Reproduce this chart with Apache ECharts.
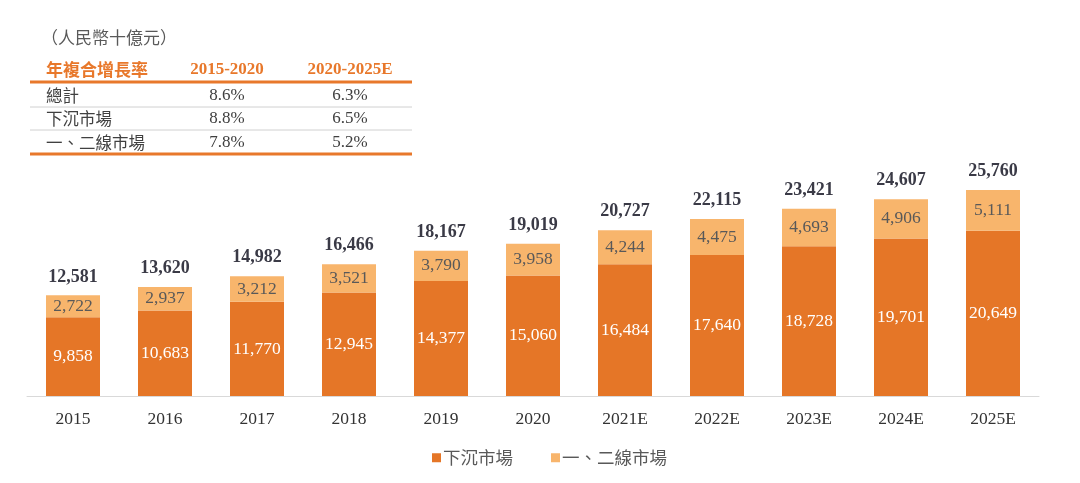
<!DOCTYPE html>
<html><head><meta charset="utf-8">
<script src="https://cdn.jsdelivr.net/npm/echarts@6/dist/echarts.min.js"></script>
<style>html,body{margin:0;padding:0;background:#fff}#c{width:1080px;height:483px}</style>
</head><body><div id="c"></div>
<script>
const categories = ['2015','2016','2017','2018','2019','2020','2021E','2022E','2023E','2024E','2025E'];
const lowerTier = [9858,10683,11770,12945,14377,15060,16484,17640,18728,19701,20649];
const upperTier = [2722,2937,3212,3521,3790,3958,4244,4475,4693,4906,5111];
const totals = [12581,13620,14982,16466,18167,19019,20727,22115,23421,24607,25760];
const seriesNames = ['下沉市場','一、二線市場'];
const unitTitle = '（人民幣十億元）';
const tableHeader = ['年複合增長率','2015-2020','2020-2025E'];
const tableRows = [
  ['總計','8.6%','6.3%'],
  ['下沉市場','8.8%','6.5%'],
  ['一、二線市場','7.8%','5.2%']
];

const DARK = '#E57627', LIGHT = '#F8B56C', TORANGE = '#E8782B';
const SERIF = '"Liberation Serif","Times New Roman",serif';
const CJK = '"Noto Sans CJK TC","Noto Sans CJK SC",sans-serif';
const fmt = v => Number(v).toLocaleString('en-US');

const chart = echarts.init(document.getElementById('c'));

const g = [];
g.push({type:'text', left:41, top:29, style:{text:unitTitle, font:'17px '+CJK, fill:'#595959'}});
const rowY = [96,119,143];
const colX = [46,227,350];
g.push({type:'text', x:colX[0], y:70, style:{text:tableHeader[0], font:'bold 17px '+CJK, fill:TORANGE, textVerticalAlign:'middle'}});
g.push({type:'text', x:colX[1], y:70, style:{text:tableHeader[1], font:'bold 17px '+SERIF, fill:TORANGE, textAlign:'center', textVerticalAlign:'middle'}});
g.push({type:'text', x:colX[2], y:70, style:{text:tableHeader[2], font:'bold 17px '+SERIF, fill:TORANGE, textAlign:'center', textVerticalAlign:'middle'}});
g.push({type:'line', shape:{x1:30,y1:82,x2:412,y2:82}, style:{stroke:TORANGE, lineWidth:3}});
g.push({type:'line', shape:{x1:30,y1:107,x2:412,y2:107}, style:{stroke:'#D0D0D0', lineWidth:1}});
g.push({type:'line', shape:{x1:30,y1:130,x2:412,y2:130}, style:{stroke:'#D0D0D0', lineWidth:1}});
g.push({type:'line', shape:{x1:30,y1:154,x2:412,y2:154}, style:{stroke:TORANGE, lineWidth:3}});
tableRows.forEach((r,i)=>{
  g.push({type:'text', x:colX[0], y:rowY[i], style:{text:r[0], font:'16.5px '+CJK, fill:'#404040', textVerticalAlign:'middle'}});
  g.push({type:'text', x:colX[1], y:rowY[i], style:{text:r[1], font:'17px '+SERIF, fill:'#404040', textAlign:'center', textVerticalAlign:'middle'}});
  g.push({type:'text', x:colX[2], y:rowY[i], style:{text:r[2], font:'17px '+SERIF, fill:'#404040', textAlign:'center', textVerticalAlign:'middle'}});
});

chart.setOption({
  animation:false,
  graphic:g,
  grid:{left:27, right:41, top:156, bottom:87, containLabel:false},
  legend:{
    data:seriesNames, left:427, top:444, itemGap:38, itemWidth:9, itemHeight:9,
    icon:'rect', textStyle:{fontFamily:CJK, fontSize:17.5, color:'#595959', padding:[0,0,0,-3]}
  },
  xAxis:{
    type:'category', data:categories,
    axisLine:{lineStyle:{color:'#D9D9D9', width:1}},
    axisTick:{show:false},
    axisLabel:{fontFamily:SERIF, fontSize:17.5, color:'#333', margin:14}
  },
  yAxis:{type:'value', min:0, max:30000, show:false, splitLine:{show:false}},
  series:[
    {name:seriesNames[0], type:'bar', stack:'t', data:lowerTier, barWidth:54,
     itemStyle:{color:DARK},
     label:{show:true, position:'inside', formatter:p=>fmt(p.value), fontFamily:SERIF, fontSize:17.5, color:'#fff'}},
    {name:seriesNames[1], type:'bar', stack:'t', data:upperTier, barWidth:54,
     itemStyle:{color:LIGHT},
     label:{show:true, position:'inside', formatter:p=>fmt(p.value), fontFamily:SERIF, fontSize:17.5, color:'#595959'}},
    {name:'total', type:'line', data:totals, symbol:'circle', symbolSize:1, showSymbol:true,
     itemStyle:{color:'rgba(0,0,0,0)'}, lineStyle:{opacity:0}, silent:true,
     label:{show:true, position:'top', distance:9, formatter:p=>fmt(p.value), fontFamily:SERIF, fontSize:18, fontWeight:'bold', color:'#3A3A46'}}
  ]
});
</script></body></html>
